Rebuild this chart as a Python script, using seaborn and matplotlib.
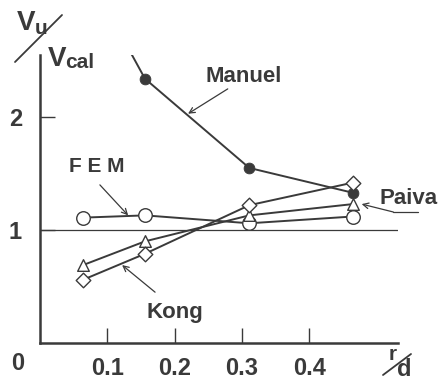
import pandas as pd
import matplotlib.pyplot as plt
import seaborn as sns

# --- Data (x = r/d, y = Vu/Vcal) ---
rd = [0.064, 0.156, 0.311, 0.465]
manuel_x = [0.156, 0.311, 0.465]
manuel = [2.34, 1.55, 1.33]
manuel_start = [0.122, 2.71]        # line runs in from above, no marker
fem = [1.11, 1.13, 1.06, 1.12]
paiva = [0.69, 0.90, 1.13, 1.23]
kong = [0.56, 0.79, 1.22, 1.42]

xticks = [0.1, 0.2, 0.3, 0.4]
xtick_labels = ["0.1", "0.2", "0.3", "0.4"]
yticks = [1, 2]

ink = "#3a3a3a"
sns.set_style("ticks")
plt.rcParams['font.family'] = ['Liberation Sans', 'DejaVu Sans']

fig = plt.figure(figsize=(4.39, 3.80), dpi=100)
ax = fig.add_axes([40 / 439, 37 / 380, 358 / 439, 288 / 380])

# reference line at 1
ax.axhline(1, color=ink, lw=0.9, zorder=1)

# --- Manuel: line with filled circles ---
man_df = pd.DataFrame({"x": [manuel_start[0]] + manuel_x,
                       "y": [manuel_start[1]] + manuel})
sns.lineplot(data=man_df, x="x", y="y", ax=ax, color=ink, lw=1.4,
             sort=False, zorder=2)
sns.scatterplot(x=manuel_x, y=manuel, ax=ax, color=ink, s=60,
                edgecolor=ink, zorder=3)

# --- open-marker series ---
series = {"FEM": (fem, "o", 95), "Paiva": (paiva, "^", 70), "Kong": (kong, "D", 55)}
for name, (vals, mk, sz) in series.items():
    sns.lineplot(x=rd, y=vals, ax=ax, color=ink, lw=1.4, zorder=2)
    sns.scatterplot(x=rd, y=vals, ax=ax, marker=mk, s=sz, facecolor="white",
                    edgecolor=ink, linewidth=1.0, zorder=4)

# --- labels with arrows ---
font = dict(fontsize=16, fontweight="bold", color=ink)
arrow = dict(arrowstyle="->", color=ink, lw=0.9, shrinkA=0, shrinkB=0)
ax.text(0.303, 2.36, "Manuel", ha="center", va="center", **font)
ax.annotate("", xy=(0.220, 2.03), xytext=(0.279, 2.25), arrowprops=arrow)
ax.text(0.085, 1.56, "F E M", ha="center", va="center",
        **{**font, "fontsize": 15})
ax.annotate("", xy=(0.131, 1.13), xytext=(0.089, 1.40), arrowprops=arrow)
ax.text(0.201, 0.27, "Kong", ha="center", va="center", **font)
ax.annotate("", xy=(0.122, 0.69), xytext=(0.171, 0.45), arrowprops=arrow)
ax.text(0.547, 1.28, "Paiva", ha="center", va="center", clip_on=False, **font)
ax.annotate("", xy=(0.478, 1.23), xytext=(0.525, 1.16), arrowprops=arrow,
            annotation_clip=False)
ax.plot([0.525, 0.562], [1.16, 1.16], color=ink, lw=0.9, clip_on=False)

# --- axes styling ---
ax.set_xlim(0, 0.532)
ax.set_ylim(0, 2.55)
ax.set_xticks(xticks)
ax.set_xticklabels(xtick_labels)
ax.set_yticks(yticks)
ax.set_xlabel("")
ax.set_ylabel("")
sns.despine(ax=ax)
for s in ["left", "bottom"]:
    ax.spines[s].set_linewidth(1.8)
    ax.spines[s].set_color(ink)
ax.tick_params(axis="both", direction="in", length=11, width=1.0, color=ink,
               labelsize=17, labelcolor=ink)
ax.tick_params(axis="x", pad=10)
ax.tick_params(axis="y", pad=13)
for lbl in ax.get_xticklabels() + ax.get_yticklabels():
    lbl.set_fontweight("bold")

# origin label, axis labels drawn as fractions
fig.text(18 / 439, 1 - 364 / 380, "0", ha="center", va="center",
         fontsize=17, fontweight="bold", color=ink)
fig.text(35 / 439, 1 - 23 / 380, "V", ha="right", va="center",
         fontsize=20, fontweight="bold", color=ink)
fig.text(35 / 439, 1 - 29 / 380, "u", ha="left", va="center",
         fontsize=15, fontweight="bold", color=ink)
fig.text(66 / 439, 1 - 59 / 380, "V", ha="right", va="center",
         fontsize=20, fontweight="bold", color=ink)
fig.text(65 / 439, 1 - 62 / 380, "cal", ha="left", va="center",
         fontsize=15, fontweight="bold", color=ink)
fig.add_artist(plt.Line2D([15 / 439, 62 / 439], [1 - 62 / 380, 1 - 15 / 380],
                          color=ink, lw=1.3))
fig.text(393 / 439, 1 - 354 / 380, "r", ha="center", va="center",
         fontsize=15, fontweight="bold", color=ink)
fig.text(404 / 439, 1 - 369 / 380, "d", ha="center", va="center",
         fontsize=17, fontweight="bold", color=ink)
fig.add_artist(plt.Line2D([383 / 439, 411 / 439], [1 - 375 / 380, 1 - 354 / 380],
                          color=ink, lw=1.3))

fig.savefig("out.png", dpi=100)
